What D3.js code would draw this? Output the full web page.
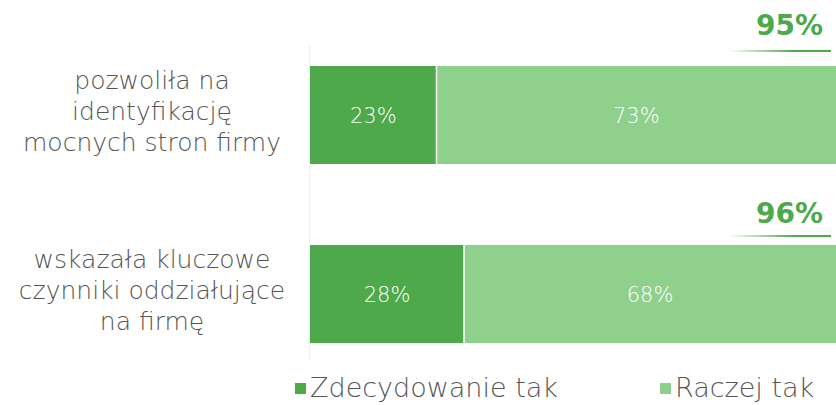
<!DOCTYPE html>
<html>
<head>
<meta charset="utf-8">
<script src="https://cdn.jsdelivr.net/npm/d3@7"></script>
<style>
  body { margin: 0; background: #fff; }
  svg { display: block; font-family: "Century Gothic", "DejaVu Sans", sans-serif; }
</style>
</head>
<body>
<div id="chart"></div>
<script>
(function() {

    var width = 836;
    var height = 405;

    // data
    var categories = [
        ["pozwoliła na", "identyfikację", "mocnych stron firmy"],
        ["wskazała kluczowe", "czynniki oddziałujące", "na firmę"]
    ];
    var seriesNames = ["Zdecydowanie tak", "Raczej tak"];
    var definitelyYes = [23, 28];
    var ratherYes = [73, 68];
    var totals = ["95%", "96%"];
    var colors = ["#4ea94b", "#8fd08c"];

    // total label placement (above each bar)
    var totalBaseline = [35, 223];
    var totalLineY = [50, 235];

    var x = d3.scaleLinear().domain([0, 100]).range([310, 860]);
    var y = d3.scaleBand().domain([0, 1]).range([66, 343]).paddingInner(0.4525).paddingOuter(0);

    var svg = d3.select("#chart")
        .append("svg")
        .attr("width", width)
        .attr("height", height);

    var grad = svg.append("defs").append("linearGradient").attr("id", "totalLine")
        .attr("x1", "0%").attr("x2", "100%");
    grad.append("stop").attr("offset", "0%").attr("stop-color", colors[0]).attr("stop-opacity", 0);
    grad.append("stop").attr("offset", "65%").attr("stop-color", colors[0]).attr("stop-opacity", 1);
    grad.append("stop").attr("offset", "100%").attr("stop-color", colors[0]).attr("stop-opacity", 1);

    // faint axis line
    svg.append("line")
        .attr("x1", 309.5).attr("x2", 309.5)
        .attr("y1", 44).attr("y2", 362)
        .attr("stroke", "#eef3ee").attr("stroke-width", 1);

    var rows = d3.range(categories.length).map(function (i) {
        return { i: i, a: definitelyYes[i], b: ratherYes[i] };
    });

    var g = svg.selectAll(".row").data(rows).enter().append("g").attr("class", "row");

    g.append("rect")
        .attr("x", x(0))
        .attr("y", function (d) { return y(d.i); })
        .attr("width", function (d) { return x(d.a) - x(0); })
        .attr("height", y.bandwidth())
        .attr("fill", colors[0]);

    g.append("rect")
        .attr("x", function (d) { return x(d.a); })
        .attr("y", function (d) { return y(d.i); })
        .attr("width", function (d) { return x(d.a + d.b) - x(d.a); })
        .attr("height", y.bandwidth())
        .attr("fill", colors[1]);

    // white separator
    g.append("line")
        .attr("x1", function (d) { return x(d.a); })
        .attr("x2", function (d) { return x(d.a); })
        .attr("y1", function (d) { return y(d.i); })
        .attr("y2", function (d) { return y(d.i) + y.bandwidth(); })
        .attr("stroke", "#fff").attr("stroke-width", 1.5);

    // value labels
    g.append("text")
        .attr("x", function (d) { return (x(0) + x(d.a)) / 2; })
        .attr("y", function (d) { return y(d.i) + y.bandwidth() / 2 + 8; })
        .attr("text-anchor", "middle")
        .attr("fill", "#fff")
        .style("font-size", "21px").style("font-weight", 300)
        .text(function (d) { return d.a + "%"; });

    g.append("text")
        .attr("x", function (d) { return (x(d.a) + Math.min(x(d.a + d.b), width)) / 2; })
        .attr("y", function (d) { return y(d.i) + y.bandwidth() / 2 + 8; })
        .attr("text-anchor", "middle")
        .attr("fill", "#fff")
        .style("font-size", "21px").style("font-weight", 300)
        .text(function (d) { return d.b + "%"; });

    // category labels
    g.each(function (d) {
        var t = d3.select(this).append("text")
            .attr("text-anchor", "middle")
            .attr("fill", "#555")
            .style("font-size", "25px").style("font-weight", 300);
        categories[d.i].forEach(function (line, k) {
            t.append("tspan")
                .attr("x", 152)
                .attr("y", y(d.i) + y.bandwidth() / 2 + 5 + (k - 1) * 31)
                .text(line);
        });
    });

    // totals
    g.append("text")
        .attr("x", 823)
        .attr("y", function (d) { return totalBaseline[d.i]; })
        .attr("text-anchor", "end")
        .attr("fill", colors[0])
        .style("font-size", "28px").style("font-weight", "bold")
        .text(function (d) { return totals[d.i]; });

    g.append("rect")
        .attr("x", 728)
        .attr("y", function (d) { return totalLineY[d.i]; })
        .attr("width", 103)
        .attr("height", 2)
        .attr("fill", "url(#totalLine)");

    // legend
    var legendX = [295, 660];
    var legend = svg.selectAll(".legend").data(seriesNames).enter().append("g")
        .attr("class", "legend")
        .attr("transform", function (d, i) { return "translate(" + legendX[i] + ",383)"; });
    legend.append("rect").attr("width", 11).attr("height", 11)
        .attr("fill", function (d, i) { return colors[i]; });
    legend.append("text").attr("x", 15).attr("y", 14)
        .attr("fill", "#555")
        .style("font-size", "27px").style("font-weight", 300)
        .text(function (d) { return d; });

})();
</script>
</body>
</html>
